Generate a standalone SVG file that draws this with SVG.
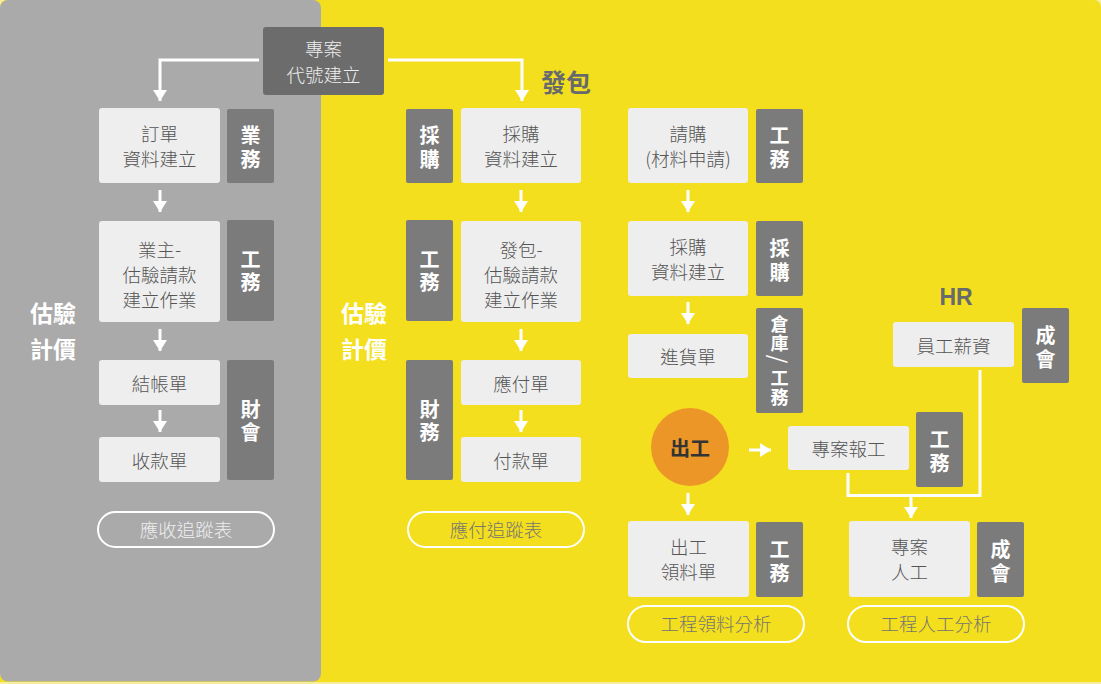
<svg xmlns="http://www.w3.org/2000/svg" width="1101" height="684" viewBox="0 0 1101 684">
<defs>
<style>
.bg{fill:#f4df1e}
.panel{fill:#aaaaaa}
.box{fill:#eeeeee}
.tag{fill:#7b7b7b}
.top{fill:#6c6c6c}
.t{font-family:"Noto Sans CJK TC","Noto Sans CJK SC",sans-serif;font-size:18.5px;font-weight:300;fill:#555555;text-anchor:middle;dominant-baseline:central}
.tt{font-family:"Noto Sans CJK TC","Noto Sans CJK SC",sans-serif;font-size:20px;font-weight:bold;fill:#ffffff;text-anchor:middle;dominant-baseline:central}
.lab{font-family:"Noto Sans CJK TC","Noto Sans CJK SC",sans-serif;font-size:23px;font-weight:bold;fill:#ffffff;text-anchor:middle;dominant-baseline:central}
.head{font-family:"Noto Sans CJK TC","Noto Sans CJK SC",sans-serif;font-size:25px;font-weight:bold;fill:#676a6d;text-anchor:middle;dominant-baseline:central}
.pill{fill:none;stroke:#ffffff;stroke-width:2}
.pt1{font-family:"Noto Sans CJK TC","Noto Sans CJK SC",sans-serif;font-size:18.5px;font-weight:300;fill:#eeeeee;text-anchor:middle;dominant-baseline:central}
.pt2{font-family:"Noto Sans CJK TC","Noto Sans CJK SC",sans-serif;font-size:18.5px;font-weight:300;fill:#77776e;text-anchor:middle;dominant-baseline:central}
.c{fill:none;stroke:#ffffff;stroke-width:3}
.a{fill:none;stroke:#ffffff;stroke-width:3;marker-end:url(#ah)}
.circ{fill:#ec9628}
.ct{font-family:"Noto Sans CJK TC","Noto Sans CJK SC",sans-serif;font-size:20px;font-weight:bold;fill:#333333;text-anchor:middle;dominant-baseline:central}
</style>
<marker id="ah" markerUnits="userSpaceOnUse" markerWidth="12" markerHeight="14" refX="11" refY="7" orient="auto">
<path d="M0,0 L11,7 L0,14 z" fill="#ffffff"/>
</marker>
</defs>
<rect x="0" y="0" width="1101" height="684" fill="#f7eda0"/>
<rect class="bg" x="0" y="0" width="1101" height="682" rx="7"/>
<rect class="bg" x="0" y="8" width="1101" height="674"/>
<rect class="panel" x="0" y="0" width="321" height="681.5" rx="8"/>

<g id="connectors">
<path class="a" d="M259,60 H160 V101"/>
<path class="a" d="M388,60 H522 V101"/>
<path class="a" d="M160,190 V212"/>
<path class="a" d="M160,329 V351"/>
<path class="a" d="M160,410 V432"/>
<path class="a" d="M521,190 V212"/>
<path class="a" d="M521,329 V351"/>
<path class="a" d="M521,410 V432"/>
<path class="a" d="M688,190 V212"/>
<path class="a" d="M688,302 V324"/>
<path class="a" d="M749,450 H771"/>
<path class="a" d="M688,493 V515"/>
<path class="c" d="M848,473 V495.5 H980 V370"/>
<path class="a" d="M911,495 V518"/>
</g>

<g id="n-project">
<rect class="top" x="263" y="27" width="121" height="68" rx="3"/>
<text class="t" style="fill:#eeeeee"><tspan x="323.5" y="48">專案</tspan><tspan x="323.5" y="74">代號建立</tspan></text>
</g>

<g id="lab-left">
<text class="lab"><tspan x="53" y="312">估驗</tspan><tspan x="53" y="348">計價</tspan></text>
</g>
<g id="lab-mid">
<text class="lab"><tspan x="364" y="312">估驗</tspan><tspan x="364" y="348">計價</tspan></text>
</g>
<g id="lab-fabao"><text class="head" x="566" y="81">發包</text></g>
<g id="lab-hr"><text class="head" style="font-size:23px;font-family:'Liberation Sans','Noto Sans',sans-serif" x="956" y="297">HR</text></g>

<g id="n-order">
<rect class="box" x="99" y="108" width="121" height="75" rx="3"/>
<text class="t"><tspan x="159.5" y="133">訂單</tspan><tspan x="159.5" y="158">資料建立</tspan></text>
</g>
<g id="tag-biz">
<rect class="tag" x="227" y="109" width="47" height="74" rx="2"/>
<text class="tt"><tspan x="250.5" y="134">業</tspan><tspan x="250.5" y="158">務</tspan></text>
</g>
<g id="n-owner">
<rect class="box" x="99" y="221" width="121" height="101" rx="3"/>
<text class="t"><tspan x="159.5" y="249">業主-</tspan><tspan x="159.5" y="274">估驗請款</tspan><tspan x="159.5" y="299">建立作業</tspan></text>
</g>
<g id="tag-eng1">
<rect class="tag" x="227" y="220" width="47" height="101" rx="2"/>
<text class="tt"><tspan x="250.5" y="258">工</tspan><tspan x="250.5" y="281">務</tspan></text>
</g>
<g id="n-bill">
<rect class="box" x="99" y="360" width="121" height="45" rx="3"/>
<text class="t" x="159.5" y="382.5">結帳單</text>
</g>
<g id="n-receipt">
<rect class="box" x="99" y="437" width="121" height="45" rx="3"/>
<text class="t" x="159.5" y="459.5">收款單</text>
</g>
<g id="tag-fin1">
<rect class="tag" x="227" y="360" width="47" height="120" rx="2"/>
<text class="tt"><tspan x="250.5" y="408">財</tspan><tspan x="250.5" y="431">會</tspan></text>
</g>
<g id="pill-ar">
<rect class="pill" x="98" y="512" width="176" height="35" rx="17.5"/>
<text class="pt1" x="186" y="529">應收追蹤表</text>
</g>

<g id="tag-pur1">
<rect class="tag" x="406" y="109" width="47" height="74" rx="2"/>
<text class="tt"><tspan x="429.5" y="134">採</tspan><tspan x="429.5" y="158">購</tspan></text>
</g>
<g id="n-purchase">
<rect class="box" x="461" y="108" width="120" height="75" rx="3"/>
<text class="t"><tspan x="521" y="133">採購</tspan><tspan x="521" y="158">資料建立</tspan></text>
</g>
<g id="tag-eng2">
<rect class="tag" x="406" y="220" width="47" height="101" rx="2"/>
<text class="tt"><tspan x="429.5" y="258">工</tspan><tspan x="429.5" y="281">務</tspan></text>
</g>
<g id="n-sub">
<rect class="box" x="461" y="221" width="120" height="101" rx="3"/>
<text class="t"><tspan x="521" y="249">發包-</tspan><tspan x="521" y="274">估驗請款</tspan><tspan x="521" y="299">建立作業</tspan></text>
</g>
<g id="tag-fin2">
<rect class="tag" x="406" y="360" width="47" height="120" rx="2"/>
<text class="tt"><tspan x="429.5" y="408">財</tspan><tspan x="429.5" y="431">務</tspan></text>
</g>
<g id="n-payable">
<rect class="box" x="461" y="360" width="120" height="45" rx="3"/>
<text class="t" x="521" y="382.5">應付單</text>
</g>
<g id="n-payment">
<rect class="box" x="461" y="437" width="120" height="45" rx="3"/>
<text class="t" x="521" y="459.5">付款單</text>
</g>
<g id="pill-ap">
<rect class="pill" x="408" y="512" width="176" height="35" rx="17.5"/>
<text class="pt2" x="496" y="529">應付追蹤表</text>
</g>

<g id="n-request">
<rect class="box" x="628" y="108" width="120" height="75" rx="3"/>
<text class="t"><tspan x="688" y="133">請購</tspan><tspan x="688" y="158">(材料申請)</tspan></text>
</g>
<g id="tag-eng3">
<rect class="tag" x="756" y="109" width="47" height="74" rx="2"/>
<text class="tt"><tspan x="779.5" y="134">工</tspan><tspan x="779.5" y="158">務</tspan></text>
</g>
<g id="n-purchase2">
<rect class="box" x="628" y="221" width="120" height="75" rx="3"/>
<text class="t"><tspan x="688" y="246">採購</tspan><tspan x="688" y="271">資料建立</tspan></text>
</g>
<g id="tag-pur2">
<rect class="tag" x="756" y="221" width="47" height="75" rx="2"/>
<text class="tt"><tspan x="779.5" y="247">採</tspan><tspan x="779.5" y="271">購</tspan></text>
</g>
<g id="n-receive">
<rect class="box" x="628" y="334" width="120" height="44" rx="3"/>
<text class="t" x="688" y="356">進貨單</text>
</g>
<g id="tag-wh">
<rect class="tag" x="756" y="308" width="47" height="105" rx="2"/>
<text class="tt" style="font-size:18px"><tspan x="779.5" y="323">倉</tspan><tspan x="779.5" y="342">庫</tspan><tspan x="779.5" y="377">工</tspan><tspan x="779.5" y="396">務</tspan></text>
<text class="tt" style="font-size:22px;font-weight:normal" transform="rotate(90 779.5 359)" x="779.5" y="359">/</text>
</g>

<g id="n-chugong">
<circle class="circ" cx="690" cy="447" r="39"/>
<text class="ct" x="690" y="447">出工</text>
</g>
<g id="n-report">
<rect class="box" x="788" y="426" width="121" height="44" rx="3"/>
<text class="t" x="848.5" y="448">專案報工</text>
</g>
<g id="tag-eng4">
<rect class="tag" x="916" y="412" width="47" height="75" rx="2"/>
<text class="tt"><tspan x="939.5" y="438">工</tspan><tspan x="939.5" y="462">務</tspan></text>
</g>
<g id="n-salary">
<rect class="box" x="893" y="322" width="121" height="45" rx="3"/>
<text class="t" x="953.5" y="344.5">員工薪資</text>
</g>
<g id="tag-fin3">
<rect class="tag" x="1022" y="308" width="47" height="75" rx="2"/>
<text class="tt"><tspan x="1045.5" y="334">成</tspan><tspan x="1045.5" y="358">會</tspan></text>
</g>

<g id="n-material">
<rect class="box" x="628" y="521" width="121" height="76" rx="3"/>
<text class="t"><tspan x="688.5" y="546">出工</tspan><tspan x="688.5" y="571">領料單</tspan></text>
</g>
<g id="tag-eng5">
<rect class="tag" x="756" y="522" width="47" height="75" rx="2"/>
<text class="tt"><tspan x="779.5" y="548">工</tspan><tspan x="779.5" y="572">務</tspan></text>
</g>
<g id="n-labor">
<rect class="box" x="849" y="521" width="121" height="76" rx="3"/>
<text class="t"><tspan x="909.5" y="546">專案</tspan><tspan x="909.5" y="571">人工</tspan></text>
</g>
<g id="tag-fin4">
<rect class="tag" x="977" y="522" width="47" height="75" rx="2"/>
<text class="tt"><tspan x="1000.5" y="548">成</tspan><tspan x="1000.5" y="572">會</tspan></text>
</g>
<g id="pill-mat">
<rect class="pill" x="628" y="606" width="176" height="36" rx="18"/>
<text class="pt2" x="716" y="623">工程領料分析</text>
</g>
<g id="pill-lab">
<rect class="pill" x="848" y="606" width="176" height="36" rx="18"/>
<text class="pt2" x="936" y="623">工程人工分析</text>
</g>
</svg>
